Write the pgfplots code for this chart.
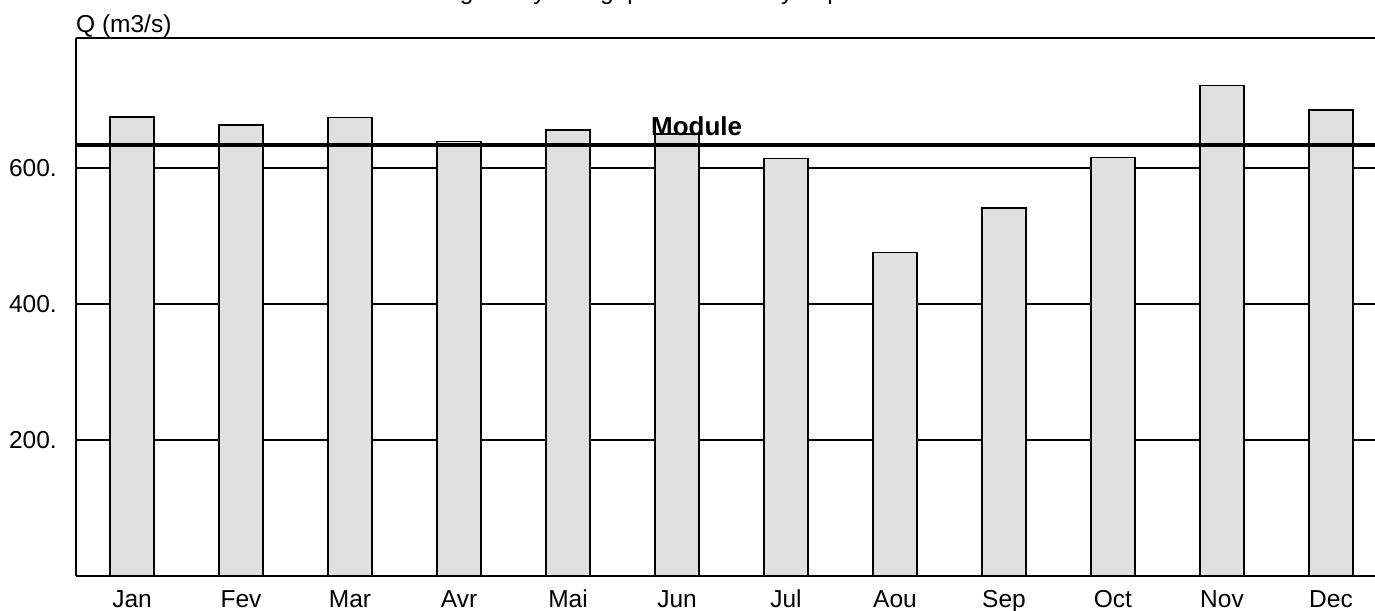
\documentclass[border=0pt]{standalone}
\usepackage{pgfplots}
\pgfplotsset{compat=1.18}
\usepackage{fontspec}
\setmainfont{Liberation Sans}
\definecolor{barfill}{HTML}{E0E0E0}
\begin{document}
\begin{tikzpicture}[font=\fontsize{24.5bp}{28bp}\selectfont]
\begin{axis}[
  name=ax,
  clip mode=individual,
  scale only axis, width=1299bp, height=538bp,
  xmin=-0.514, xmax=11.404, ymin=0, ymax=791,
  axis x line*=box, axis y line*=left,
  axis line style={-, line width=1.8bp, black},
  xtick={0,...,11},
  xticklabels={Jan,Fev,Mar,Avr,Mai,Jun,Jul,Aou,Sep,Oct,Nov,Dec},
  ytick={200,400,600},
  yticklabels={200.,400.,600.},
  tick style={draw=none},
  major tick length=0pt,
  xticklabel style={anchor=base, inner sep=0pt, yshift=-31bp},
  yticklabel style={anchor=east, inner sep=0pt, xshift=-19bp},
  ymajorgrids,
  grid style={black, line width=1.4bp},
]
\addplot[ybar, bar width=44bp, fill=barfill, draw=black, line width=1.5bp]
  coordinates {(0,675) (1,663) (2,674) (3,639) (4,656) (5,650) (6,614) (7,476) (8,541) (9,615) (10,721) (11,685)};
\addplot[black, line width=4.2bp, forget plot] coordinates {(-0.514,634) (11.404,634)};
\node[anchor=base, font=\fontsize{26bp}{30bp}\selectfont\bfseries] at (axis cs:5.18,647) {Module};
\node[anchor=base west, inner sep=0pt] at (rel axis cs:0,1) [yshift=5bp] {Q (m3/s)};
\node[anchor=base, inner sep=0pt] at (rel axis cs:0.4611,1) [yshift=38.5bp] {Régime hydrologique annuel moyen par mois};
\end{axis}
\pgfresetboundingbox
\useasboundingbox ([shift={(-76bp,-34bp)}]ax.south west) rectangle ([shift={(0bp,38bp)}]ax.north east);
\end{tikzpicture}
\end{document}
